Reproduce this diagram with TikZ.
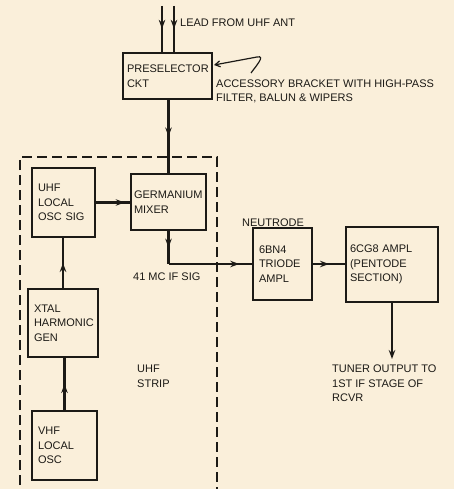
\documentclass[tikz,border=0pt]{standalone}
\usepackage{fontspec}
\setmainfont{Liberation Sans}
\usetikzlibrary{arrows.meta,decorations.markings}
\definecolor{paper}{RGB}{250,239,218}
\definecolor{ink}{RGB}{28,26,22}
\begin{document}
\begin{tikzpicture}[x=1pt,y=-1pt,
  every node/.style={font=\fontsize{11}{14.5}\selectfont, text=ink},
  blk/.style={draw=ink, line width=2.6pt, rectangle, align=left, inner xsep=6pt, inner ysep=2pt},
  conn/.style={draw=ink, line width=2.2pt},
  midarr/.style={postaction={decorate}, decoration={markings, mark=at position #1 with {\arrow{Stealth[length=9pt,width=6.5pt]}}}},
  lbl/.style={inner sep=0pt, align=left},
]
\fill[paper] (0,0) rectangle (454,489);
\useasboundingbox (0,0) rectangle (454,489);

% dashed UHF strip enclosure
\draw[ink, line width=2.4pt, dash pattern=on 10pt off 5pt] (20,500) -- (20,157) -- (217,157) -- (217,500);

% blocks
\node[blk, text width=81pt, inner xsep=4pt, minimum height=46pt] (presel) at (167.5,76) {PRESELECTOR\\CKT};
\node[blk, text width=51pt, minimum height=69pt] (uhf) at (63.5,202.5) {UHF\\LOCAL\\OSC SIG};
\node[blk, text width=69pt, inner xsep=3pt, minimum height=56pt] (mixer) at (168.5,202) {GERMANIUM\\MIXER};
\node[blk, text width=58pt, minimum height=68pt] (xtal) at (63,323) {XTAL\\HARMONIC\\GEN};
\node[blk, text width=53pt, minimum height=69pt] (vhf) at (64.5,445.5) {VHF\\LOCAL\\OSC};
\node[blk, text width=47pt, minimum height=72pt] (triode) at (282.5,264) {6BN4\\TRIODE\\AMPL};
\node[blk, text width=84pt, inner xsep=4pt, minimum height=75pt] (pent) at (392,264.5) {6CG8 AMPL\\(PENTODE\\SECTION)};

% labels
\node[lbl, anchor=base west] (leadlbl) at (180,27) {LEAD FROM UHF ANT};
\node[lbl, anchor=north west] (acclbl) at (216,79.5) {ACCESSORY BRACKET WITH HIGH-PASS\\FILTER, BALUN \& WIPERS};
\node[lbl, anchor=base west] (iflbl) at (133,280) {41 MC IF SIG};
\node[lbl, anchor=north west] (strip) at (137,365) {UHF\\STRIP};
\node[lbl, anchor=base west] (neut) at (242,226) {NEUTRODE};
\node[lbl, anchor=north west] (tuner) at (332,365) {TUNER OUTPUT TO\\1ST IF STAGE OF\\RCVR};

% connectors
\coordinate (leadA) at (162,6);
\coordinate (leadB) at (174,6);
\draw[conn, midarr=0.5] (leadA) -- (leadA |- presel.north);
\draw[conn, midarr=0.5] (leadB) -- (leadB |- presel.north);
\draw[conn, midarr=0.5] (mixer.north |- presel.south) -- (mixer.north);
\draw[conn, midarr=0.85] (uhf.east) -- (uhf.east -| mixer.west);
\draw[conn, midarr=0.5] (xtal.north) -- (xtal.north |- uhf.south);
\draw[conn, midarr=0.5] (vhf.north) -- (vhf.north |- xtal.south);
\coordinate (ifbend) at (mixer.south |- triode.west);
\draw[conn, midarr=0.5] (mixer.south) -- (ifbend);
\draw[conn, midarr=0.85] (ifbend) -- (triode.west);
\draw[conn, midarr=0.5] (triode.east) -- (triode.east -| pent.west);
\coordinate (tunerout) at (392,359);
\draw[conn, -{Stealth[length=9pt,width=6.5pt]}] (pent.south) -- (tunerout);

% accessory bracket pointer
\coordinate (acctail) at (251,73);
\coordinate (acchead) at (214,65);
\draw[ink, line width=1.2pt, -{Straight Barb[length=5pt,width=6pt]}] (acctail) .. controls (256,66) and (266,55) .. (257,57) -- (acchead);
\end{tikzpicture}
\end{document}
